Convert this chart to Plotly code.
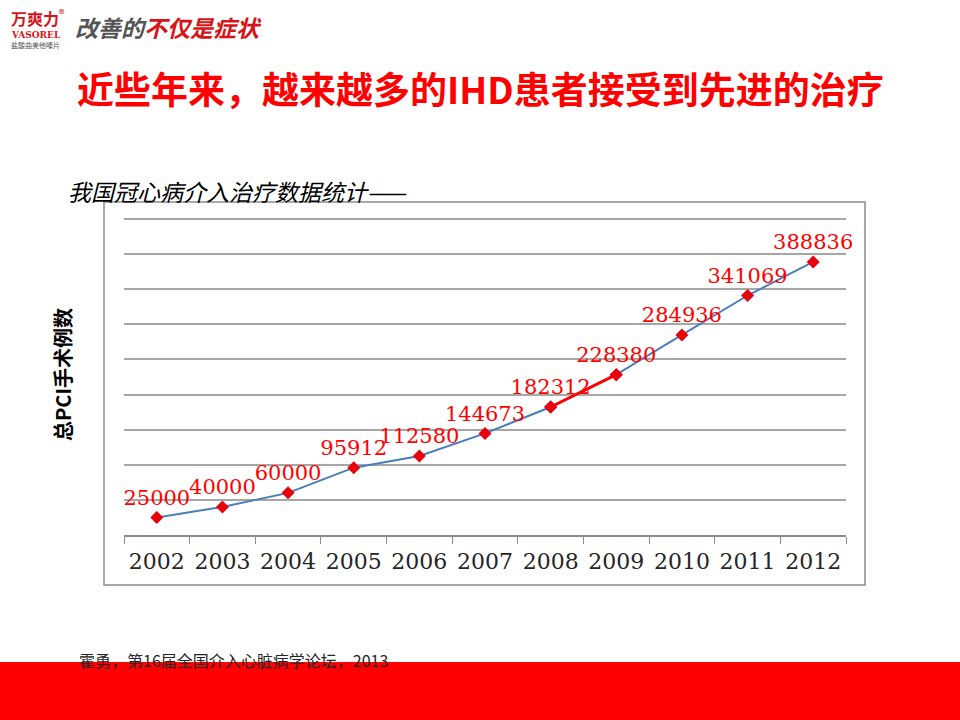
import plotly.graph_objects as go

# 我国冠心病介入治疗数据统计 (PCI 例数)
years = ["2002", "2003", "2004", "2005", "2006", "2007",
         "2008", "2009", "2010", "2011", "2012"]
pci_cases = [25000, 40000, 60000, 95912, 112580, 144673,
             182312, 228380, 284936, 341069, 388836]
highlight = slice(6, 8)  # 2008-2009 段用红色标出

title = "近些年来，越来越多的IHD患者接受到先进的治疗"
subtitle = "我国冠心病介入治疗数据统计——"
y_title = "总PCI手术例数"
source = "霍勇，第16届全国介入心脏病学论坛，2013"

W, H = 960, 720
CJK = "Noto Sans CJK SC"


def px_x(v):
    return v / W


def px_y(v):
    return 1 - v / H


fig = go.Figure()

fig.add_trace(go.Scatter(
    x=years, y=pci_cases, mode="lines+markers+text",
    line=dict(color="#4A7EBB", width=2),
    marker=dict(symbol="diamond", size=10, color="#E8000B"),
    text=[str(v) for v in pci_cases], textposition="top center",
    textfont=dict(family="DejaVu Serif", size=21, color="#FF0000"),
    cliponaxis=False, showlegend=False, hoverinfo="skip",
))
fig.add_trace(go.Scatter(
    x=years[highlight], y=pci_cases[highlight], mode="lines+markers",
    line=dict(color="#FF0000", width=3),
    marker=dict(symbol="diamond", size=10, color="#E8000B"),
    showlegend=False, hoverinfo="skip",
))

fig.update_xaxes(
    domain=[px_x(124), px_x(846)], range=[-0.5, len(years) - 0.5],
    showline=True, linecolor="#8C8C8C", linewidth=1.5,
    ticks="outside", ticklen=7, tickcolor="#8C8C8C",
    tickson="boundaries", showgrid=False, ticklabelstandoff=6,
    tickfont=dict(family="DejaVu Serif", size=22, color="#262626"),
    fixedrange=True,
)
# 顶部网格线为 450000，上方留少量空白
fig.update_yaxes(
    domain=[px_y(535), px_y(212)],
    range=[0, 460000], dtick=50000,
    showgrid=True, gridcolor="#A6A6A6", gridwidth=1.5,
    showticklabels=False, zeroline=False, fixedrange=True,
)

# 图表外框
fig.add_shape(type="rect", xref="paper", yref="paper",
              x0=px_x(104), x1=px_x(865), y0=px_y(585), y1=px_y(202),
              line=dict(color="#8C8C8C", width=1.5), layer="below")
# 底部红色条
fig.add_shape(type="rect", xref="paper", yref="paper",
              x0=0, x1=1, y0=0, y1=px_y(662),
              fillcolor="#FF0000", line=dict(width=0), layer="below")

ann = [
    dict(x=px_x(480), y=px_y(88), text="<b>" + title + "</b>", xanchor="center",
         font=dict(family=CJK, size=37, color="#FF0000")),
    dict(x=px_x(66), y=px_y(191), text="<i>" + subtitle + "</i>", xanchor="left",
         font=dict(family=CJK, size=23, color="#000000")),
    dict(x=px_x(62), y=px_y(375), text="<b>" + y_title + "</b>", textangle=-90,
         xanchor="center", font=dict(family=CJK, size=20, color="#000000")),
    dict(x=px_x(77), y=px_y(660), text=source, xanchor="left",
         font=dict(family=CJK, size=16, color="#262626")),
    # 页眉 logo 与标语
    dict(x=px_x(9), y=px_y(17), text="<b>万爽力</b><sup>®</sup>", xanchor="left",
         font=dict(family=CJK, size=16, color="#D7141A")),
    dict(x=px_x(9), y=px_y(35), text="<b>VASOREL</b>", xanchor="left",
         font=dict(family="DejaVu Serif", size=9, color="#D7141A")),
    dict(x=px_x(9), y=px_y(45), text="盐酸曲美他嗪片", xanchor="left",
         font=dict(family=CJK, size=7, color="#555555")),
    dict(x=px_x(73), y=px_y(27),
         text="<b><i><span style='color:#555555'>改善的</span>不仅是症状</i></b>",
         xanchor="left", font=dict(family=CJK, size=23, color="#D7141A")),
]
for a in ann:
    a.update(xref="paper", yref="paper", showarrow=False, yanchor="middle")
    fig.add_annotation(**a)

fig.update_layout(
    width=W, height=H,
    margin=dict(l=0, r=0, t=0, b=0),
    plot_bgcolor="white", paper_bgcolor="white",
)

fig.write_html("out.html", config={"displayModeBar": False},
               post_script="document.body.style.margin='0';")
